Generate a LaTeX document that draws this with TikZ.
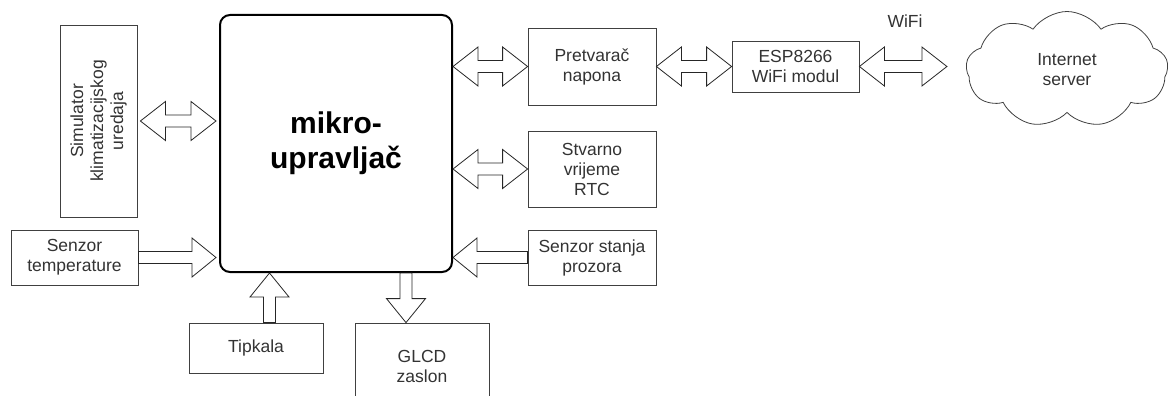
\documentclass[tikz,border=0pt]{standalone}
\usepackage{fontspec}
\setmainfont{Liberation Sans}
\usetikzlibrary{calc,shapes.symbols}

\tikzset{
  blok/.style={draw=black!75, line width=0.8pt, align=center, text=black!80,
    font=\fontsize{17.5}{20}\selectfont, inner sep=0pt},
  strelica/.style={draw=black!85, line width=0.8pt, fill=white, line join=miter}
}

% one-way block arrow, tail #1, tip #2
\newcommand\jednasmjer[2]{%
  \path (#1) coordinate (t0) (#2) coordinate (t1) ($(t1)!24pt!(t0)$) coordinate (hb);
  \draw[strelica] ($(t0)!6pt!90:(t1)$) -- ($(hb)!6pt!90:(t1)$) -- ($(hb)!19.5pt!90:(t1)$)
    -- (t1) -- ($(hb)!19.5pt!-90:(t1)$) -- ($(hb)!6pt!-90:(t1)$) -- ($(t0)!6pt!-90:(t1)$) -- cycle;}
% two-way block arrow between #1 and #2
\newcommand\dvosmjer[2]{%
  \path (#1) coordinate (t0) (#2) coordinate (t1)
    ($(t0)!25pt!(t1)$) coordinate (ha) ($(t1)!25pt!(t0)$) coordinate (hb);
  \draw[strelica] (t0) -- ($(ha)!19.5pt!90:(t1)$) -- ($(ha)!6pt!90:(t1)$) -- ($(hb)!6pt!90:(t1)$)
    -- ($(hb)!19.5pt!90:(t1)$) -- (t1) -- ($(hb)!19.5pt!-90:(t1)$) -- ($(hb)!6pt!-90:(t1)$)
    -- ($(ha)!6pt!-90:(t1)$) -- ($(ha)!19.5pt!-90:(t1)$) -- cycle;}

\begin{document}
\begin{tikzpicture}[x=1pt, y=-1pt]
  \path[use as bounding box] (0,0) rectangle (1170,396);
  \begin{scope}
  \clip (0,0) rectangle (1170,396);
  \node[blok, draw=black, line width=2pt, rounded corners=10pt, minimum width=232pt, minimum height=257pt,
    font=\fontsize{30}{35}\bfseries\selectfont, text=black] (mcu) at (336,143.5) {mikro-\\upravlja\v{c}};
  \node[blok, minimum width=77pt, minimum height=192pt] (sim) at (98.5,121) {};
  \node[blok, draw=none, rotate=90] at (sim) {Simulator\\klimatizacijskog\\uredaja};
  \node[blok, minimum width=127pt, minimum height=55pt] (temp) at (74.5,257.5) {Senzor\\temperature};
  \node[blok, minimum width=134pt, minimum height=50pt] (tip) at (256,348) {Tipkala};
  \node[blok, minimum width=134pt, minimum height=86pt] (glcd) at (422,366) {GLCD\\zaslon};
  \node[blok, minimum width=128pt, minimum height=77pt] (pret) at (592,66.5) {Pretvara\v{c}\\napona};
  \node[blok, minimum width=127pt, minimum height=51pt] (esp) at (795.5,66.5) {ESP8266\\WiFi modul};
  \node[blok, minimum width=128pt, minimum height=76pt] (rtc) at (592,169) {Stvarno\\vrijeme\\RTC};
  \node[blok, minimum width=128pt, minimum height=55pt] (win) at (592,257.5) {Senzor stanja\\prozora};
  \node[blok, draw=none] (wifi) at (905,21) {WiFi};
  \node[blok, cloud, cloud puffs=9, cloud puff arc=110, aspect=1.8,
    minimum width=202pt, minimum height=116pt] (srv) at (1067,69.5) {Internet\\server};
  \end{scope}

  \dvosmjer{[xshift=3pt]sim.east}{[xshift=-3pt]mcu.west |- sim.east}
  \jednasmjer{temp.east}{[xshift=-3pt]mcu.west |- temp.east}
  \jednasmjer{[xshift=13.5pt]tip.north}{[xshift=13.5pt]mcu.south -| tip.north}
  \jednasmjer{[xshift=-16pt]mcu.south -| glcd.north}{[xshift=-16pt]glcd.north}
  \dvosmjer{mcu.east |- pret.west}{pret.west}
  \dvosmjer{pret.east}{esp.west}
  \dvosmjer{mcu.east |- rtc.west}{rtc.west}
  \jednasmjer{win.west}{mcu.east |- win.west}
  \dvosmjer{esp.east}{[xshift=-19pt]srv.west |- esp.east}
\end{tikzpicture}
\end{document}
